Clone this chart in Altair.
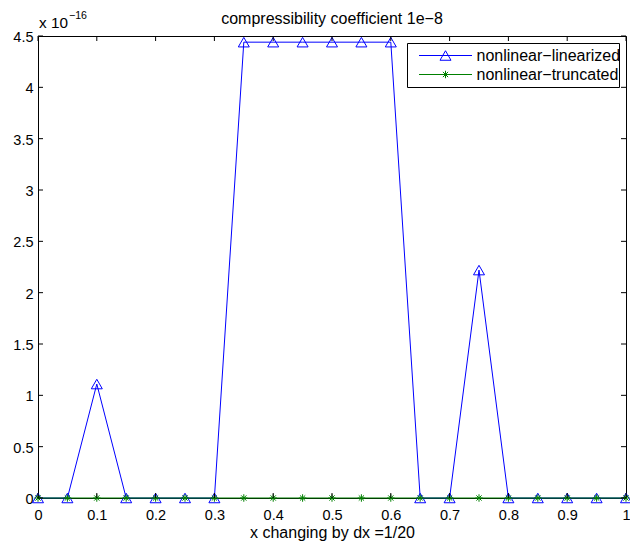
import altair as alt
import pandas as pd

# ---- data (y values in units of 1e-16) ----
X = [0, 0.05, 0.1, 0.15, 0.2, 0.25, 0.3, 0.35, 0.4, 0.45, 0.5,
     0.55, 0.6, 0.65, 0.7, 0.75, 0.8, 0.85, 0.9, 0.95, 1.0]
LINEARIZED = [0, 0, 1.11, 0, 0, 0, 0, 4.44, 4.44, 4.44, 4.44,
              4.44, 4.44, 0, 0, 2.22, 0, 0, 0, 0, 0]
TRUNCATED = [0, 0, 0, 0, 0, 0, 0, 0, 0, 0, 0,
             0, 0, 0, 0, 0, 0, 0, 0, 0, 0]
SERIES = ["nonlinear\u2212linearized", "nonlinear\u2212truncated"]
COLORS = ["#0000ff", "#008000"]
X_TICKS = [0, 0.1, 0.2, 0.3, 0.4, 0.5, 0.6, 0.7, 0.8, 0.9, 1]
Y_TICKS = [0, 0.5, 1, 1.5, 2, 2.5, 3, 3.5, 4, 4.5]
TITLE = "compressibility coefficient 1e\u22128"
X_TITLE = "x changing by dx =1/20"
EXP_BASE = "x 10"
EXP_POWER = "\u221216"

W, H = 588, 462
FONT = "Liberation Sans"
STAR = "M-1,0L1,0M0,-1L0,1M-0.7,-0.7L0.7,0.7M-0.7,0.7L0.7,-0.7"

df_lin = pd.DataFrame({"x": X, "y": LINEARIZED})
df_tr = pd.DataFrame({"x": X, "y": TRUNCATED})
df_xt = pd.DataFrame({"x": X_TICKS})
df_yt = pd.DataFrame({"y": Y_TICKS})

xscale = alt.Scale(domain=[0, 1], nice=False, zero=False)
yscale = alt.Scale(domain=[0, 4.5], nice=False, zero=False)

XE = alt.X("x:Q", scale=xscale,
           axis=alt.Axis(values=X_TICKS, format="~g", ticks=False, tickSize=0,
                         domain=False, grid=False, labelFontSize=14.5,
                         labelPadding=21.5, labelBaseline="alphabetic",
                         labelFlush=False, labelOverlap=False, labelColor="black",
                         title=X_TITLE, titleFontSize=16, titleFontWeight="normal",
                         titleBaseline="alphabetic", titleY=39, titleColor="black"))
YE = alt.Y("y:Q", scale=yscale,
           axis=alt.Axis(values=Y_TICKS, format="~g", ticks=False, tickSize=0,
                         domain=False, grid=False, labelFontSize=14.5,
                         labelPadding=5, labelOffset=1.5, labelFlush=False,
                         labelOverlap=False, labelColor="black", title=None))

line_lin = alt.Chart(df_lin).mark_line(color=COLORS[0], strokeWidth=1).encode(x=XE, y=YE)
pts_lin = alt.Chart(df_lin).mark_point(shape="triangle-up", filled=False, size=121,
                                       color=COLORS[0], strokeWidth=1, opacity=1).encode(x=XE, y=YE)
line_tr = alt.Chart(df_tr).mark_line(color=COLORS[1], strokeWidth=1).encode(x=XE, y=YE)
pts_tr = alt.Chart(df_tr).mark_point(shape=STAR, filled=False, size=56,
                                     color=COLORS[1], strokeWidth=1, opacity=1).encode(x=XE, y=YE)

# inward ticks on all four sides
tick_b = alt.Chart(df_xt).mark_rule(color="black", strokeWidth=1).encode(
    x=XE, y=alt.value(H), y2=alt.value(H - 5))
tick_t = alt.Chart(df_xt).mark_rule(color="black", strokeWidth=1).encode(
    x=XE, y=alt.value(0), y2=alt.value(5))
tick_l = alt.Chart(df_yt).mark_rule(color="black", strokeWidth=1).encode(
    y=YE, x=alt.value(0), x2=alt.value(5))
tick_r = alt.Chart(df_yt).mark_rule(color="black", strokeWidth=1).encode(
    y=YE, x=alt.value(W - 5), x2=alt.value(W))

# title and exponent label
title = alt.Chart(pd.DataFrame({"t": [TITLE]})).mark_text(
    font=FONT, fontSize=16, align="center", baseline="alphabetic", color="black").encode(
    x=alt.value(W / 2), y=alt.value(-12.5), text="t:N")
exp_base = alt.Chart(pd.DataFrame({"t": [EXP_BASE]})).mark_text(
    font=FONT, fontSize=15.3, align="left", baseline="alphabetic", color="black").encode(
    x=alt.value(1), y=alt.value(-8.5), text="t:N")
exp_pow = alt.Chart(pd.DataFrame({"t": [EXP_POWER]})).mark_text(
    font=FONT, fontSize=10.6, align="left", baseline="alphabetic", color="black").encode(
    x=alt.value(31), y=alt.value(-17), text="t:N")

# legend
leg_box = alt.Chart(pd.DataFrame({"a": [0]})).mark_rect(
    fill="white", stroke="black", strokeWidth=1).encode(
    x=alt.value(369.5), x2=alt.value(581.5), y=alt.value(7.5), y2=alt.value(51.5))
legend_layers = [leg_box]
shapes = ["triangle-up", STAR]
sizes = [121, 56]
for i, name in enumerate(SERIES):
    ly = 19.5 + 19 * i
    d = pd.DataFrame({"name": [name]})
    legend_layers.append(alt.Chart(d).mark_rule(color=COLORS[i], strokeWidth=1).encode(
        x=alt.value(381), x2=alt.value(434), y=alt.value(ly)))
    legend_layers.append(alt.Chart(d).mark_point(shape=shapes[i], filled=False, size=sizes[i],
                                                 color=COLORS[i], strokeWidth=1, opacity=1).encode(
        x=alt.value(407.5), y=alt.value(ly)))
    legend_layers.append(alt.Chart(d).mark_text(
        font=FONT, fontSize=16, align="left", baseline="alphabetic", color="black").encode(
        x=alt.value(438.5), y=alt.value(ly + 5.7), text="name:N"))

chart = alt.layer(
    line_lin, pts_lin, line_tr, pts_tr,
    tick_b, tick_t, tick_l, tick_r,
    title, exp_base, exp_pow, *legend_layers
).properties(
    width=W, height=H,
    autosize=alt.AutoSizeParams(type="none"),
    padding={"left": 38, "top": 36, "right": 4, "bottom": 46},
    background="white"
).configure(font=FONT).configure_view(stroke="black", strokeWidth=1)

chart.save("out.html", embed_options={"renderer": "svg", "actions": False})
